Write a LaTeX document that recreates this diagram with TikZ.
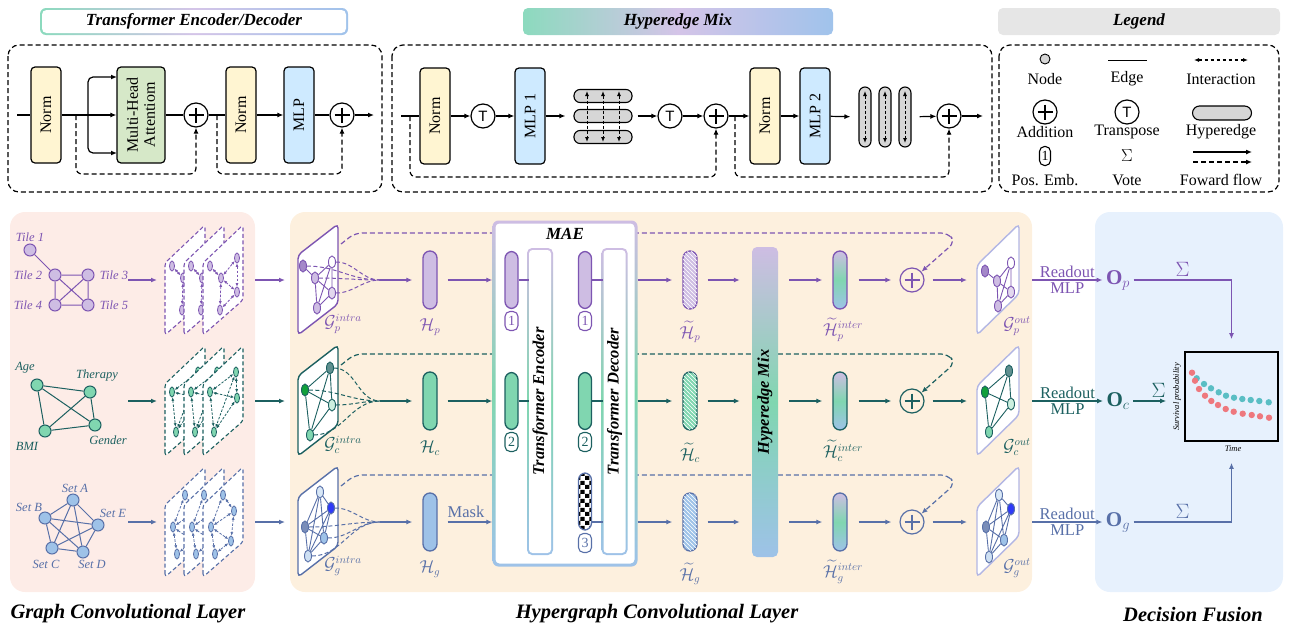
\documentclass[tikz,border=0pt]{standalone}
\usepackage{fontspec}
\setmainfont{Liberation Serif}
\newfontfamily\tsans{Liberation Sans}
\usepackage{amsmath}
\usepackage{tikz}
\usetikzlibrary{patterns, calc, arrows.meta, shapes.geometric}

\definecolor{pline}{RGB}{125,85,178}
\definecolor{pfill}{RGB}{206,189,227}
\definecolor{cline}{RGB}{28,96,96}
\definecolor{cfill}{RGB}{128,214,176}
\definecolor{gline}{RGB}{88,112,168}
\definecolor{gfill}{RGB}{158,194,232}
\definecolor{normfill}{RGB}{255,245,210}
\definecolor{mlpfill}{RGB}{206,234,255}
\definecolor{mhafill}{RGB}{214,232,200}
\definecolor{hegray}{RGB}{214,214,214}
\definecolor{leggray}{RGB}{230,230,230}
\definecolor{gclbg}{RGB}{253,236,231}
\definecolor{hclbg}{RGB}{253,240,222}
\definecolor{dfbg}{RGB}{231,241,253}
\definecolor{outbd}{RGB}{178,182,228}
\definecolor{tgreen}{RGB}{140,218,190}
\definecolor{tlav}{RGB}{212,196,232}
\definecolor{tblue}{RGB}{160,195,235}
\definecolor{reddot}{RGB}{238,120,126}
\definecolor{tealdot}{RGB}{90,190,196}

\pgfdeclarepatternformonly{hatchw}{\pgfqpoint{-1pt}{-1pt}}{\pgfqpoint{5pt}{5pt}}{\pgfqpoint{4pt}{4pt}}{%
  \pgfsetlinewidth{0.55pt}%
  \pgfpathmoveto{\pgfqpoint{-0.5pt}{4.5pt}}%
  \pgfpathlineto{\pgfqpoint{4.5pt}{-0.5pt}}%
  \pgfusepath{stroke}}
\pgfdeclarepatternformonly{chk}{\pgfpointorigin}{\pgfqpoint{9pt}{9pt}}{\pgfqpoint{9pt}{9pt}}{%
  \pgfpathrectangle{\pgfpointorigin}{\pgfqpoint{4.5pt}{4.5pt}}%
  \pgfpathrectangle{\pgfqpoint{4.5pt}{4.5pt}}{\pgfqpoint{4.5pt}{4.5pt}}%
  \pgfusepath{fill}}

\begin{document}
\begin{tikzpicture}[x=1pt, y=-1pt,
  wire/.style={line width=1.2pt},
  arrow/.style={->, line width=1.2pt, >={Latex[length=6pt,width=5pt]}},
  darrow/.style={arrow, dash pattern=on 5pt off 3pt},
  iarrow/.style={<->, line width=0.8pt, dash pattern=on 2.5pt off 1.5pt, >={Latex[length=3.5pt,width=3pt]}},
  harrow/.style={<->, line width=1pt, dash pattern=on 3pt off 2pt, >={Latex[length=5pt,width=4pt]}},
  dbox/.style={line width=1.2pt, dash pattern=on 5pt off 3pt, rounded corners=11pt},
  blk/.style={rectangle, draw, line width=1.2pt, rounded corners=4pt, minimum width=30pt, minimum height=96pt, inner sep=0pt},
  vlab/.style={rotate=90, font=\fontsize{16}{17}\selectfont, align=center, inner sep=0pt},
  vbold/.style={rotate=90, font=\fontsize{16.5}{17}\selectfont\bfseries\itshape, inner sep=0pt},
  addop/.style={circle, draw, line width=1.2pt, minimum size=24pt, inner sep=0pt,
    path picture={\draw[line width=1.3pt]
      ($(path picture bounding box.center)+(-7.5,0)$) -- ($(path picture bounding box.center)+(7.5,0)$)
      ($(path picture bounding box.center)+(0,-7.5)$) -- ($(path picture bounding box.center)+(0,7.5)$);}},
  trop/.style={circle, draw, line width=1.2pt, minimum size=24pt, inner sep=0pt, font=\tsans\fontsize{15}{15}\selectfont},
  hedge/.style={rectangle, draw, line width=1.1pt, fill=hegray, rounded corners=6pt, inner sep=0pt},
  title/.style={rectangle, rounded corners=5pt, inner sep=0pt, font=\fontsize{17}{18}\selectfont\bfseries\itshape},
  btitle/.style={font=\fontsize{20.5}{22}\selectfont\bfseries\itshape},
  legtxt/.style={font=\fontsize{16}{17}\selectfont},
  glab/.style={font=\fontsize{12.5}{13}\selectfont\itshape},
  mlab/.style={font=\fontsize{16}{17}\selectfont},
  rdlab/.style={font=\fontsize{16.5}{17}\selectfont, inner sep=2pt},
  sig/.style={font=\fontsize{21}{21}\selectfont},
  gnode/.style={circle, line width=1pt, minimum size=12pt, inner sep=0pt},
  enode/.style={ellipse, line width=0.8pt, minimum width=5pt, minimum height=10pt, inner sep=0pt},
  inode/.style={ellipse, line width=0.9pt, minimum width=7pt, minimum height=12pt, inner sep=0pt},
  card/.style={fill=white, line width=1.1pt, dash pattern=on 4pt off 2.5pt, rounded corners=3pt},
  fan/.style={line width=1pt, dash pattern=on 4pt off 2.5pt},
  tok/.style={rectangle, rounded corners=7pt, minimum width=14pt, minimum height=58pt, line width=1.3pt, inner sep=0pt},
  pemb/.style={rectangle, draw, rounded corners=5pt, line width=1.1pt, fill=white, minimum width=13pt, minimum height=19pt, inner sep=0pt, font=\fontsize{14}{14}\selectfont}
]
\useasboundingbox (0,0) rectangle (1295,632);

%% ---- TRANSFORMER ENCODER/DECODER ----
\shade[left color=tgreen, right color=tblue, middle color=tlav, rounded corners=6pt] (40,8) rectangle (348,35);
\node[title, fill=white, minimum width=304pt, minimum height=23pt, rounded corners=4.5pt] at (194,21.5) (ttitle) {Transformer Encoder/Decoder};
\draw[dbox] (8,45) rectangle (382,192);
\coordinate (tin) at (17,115);
\node[blk, fill=normfill, label={[vlab]center:Norm}] at (46,115) (tnorm1) {};
\coordinate (tres1) at (76,115);
\coordinate (tbr) at (88,115);
\node[blk, fill=mhafill, minimum width=48pt, label={[vlab]center:Multi-Head\\Attentiom}] at (141,115) (tmha) {};
\coordinate (tmhaT) at (117,77);
\coordinate (tmhaB) at (117,153);
\node[addop] at (196,115) (tadd1) {};
\coordinate (tres2) at (217,115);
\node[blk, fill=normfill, label={[vlab]center:Norm}] at (241,115) (tnorm2) {};
\node[blk, fill=mlpfill, label={[vlab]center:MLP}] at (299,115) (tmlp) {};
\node[addop] at (342,115) (tadd2) {};
\coordinate (tout) at (374,115);
\coordinate (tlow1) at (196,174);
\coordinate (tlow2) at (342,174);

\draw[wire] (tin) -- (tnorm1);
\draw[arrow] (tnorm1) -- (tmha);
\draw[arrow, rounded corners=5pt] (tbr) |- (tmhaT);
\draw[arrow, rounded corners=5pt] (tbr) |- (tmhaB);
\draw[wire] (tmha) -- (tadd1);
\draw[wire] (tadd1) -- (tnorm2);
\draw[arrow] (tnorm2) -- (tmlp);
\draw[wire] (tmlp) -- (tadd2);
\draw[arrow] (tadd2) -- (tout);
\draw[darrow, rounded corners=6pt] (tres1) |- (tlow1) -- (tadd1);
\draw[darrow, rounded corners=6pt] (tres2) |- (tlow2) -- (tadd2);

%% ---- HYPEREDGE MIX ----
\node[title, left color=tgreen, right color=tblue, middle color=tlav, minimum width=310pt, minimum height=27pt] at (678,21.5) (htitle) {Hyperedge Mix};
\draw[dbox] (392,45) rectangle (992,192);
\coordinate (hin) at (401,116);
\coordinate (hres1) at (410,116);
\node[blk, fill=normfill, label={[vlab]center:Norm}] at (435,116) (hnorm1) {};
\node[trop] at (483,116) (htr1) {T};
\node[blk, fill=mlpfill, label={[vlab]center:MLP 1}] at (530,116) (hmlp1) {};
\node[hedge, minimum width=58pt, minimum height=13pt] at (603,96) (hh1) {};
\node[hedge, minimum width=58pt, minimum height=13pt] at (603,116) (hh2) {};
\node[hedge, minimum width=58pt, minimum height=13pt] at (603,137) (hh3) {};
\foreach \x in {587,603,619} \draw[harrow] (\x,91) -- (\x,142);
\node[trop] at (670,116) (htr2) {T};
\node[addop] at (716,116) (hadd1) {};
\coordinate (hres2) at (735,116);
\node[blk, fill=normfill, label={[vlab]center:Norm}] at (765,116) (hnorm2) {};
\node[blk, fill=mlpfill, label={[vlab]center:MLP 2}] at (815,116) (hmlp2) {};
\node[hedge, minimum width=12pt, minimum height=60pt] at (865,117) (hv1) {};
\node[hedge, minimum width=12pt, minimum height=60pt] at (885,117) (hv2) {};
\node[hedge, minimum width=12pt, minimum height=60pt] at (905,117) (hv3) {};
\foreach \x in {865,885,905} \draw[harrow] (\x,91) -- (\x,143);
\node[addop] at (949,116) (hadd2) {};
\coordinate (hout) at (983,116);
\coordinate (hlow1) at (716,177);
\coordinate (hlow2) at (949,177);

\draw[wire] (hin) -- (hnorm1);
\draw[arrow] (hnorm1) -- (htr1);
\draw[arrow] (htr1) -- (hmlp1);
\draw[arrow, shorten >=8pt] (hmlp1) -- (hh2);
\draw[arrow, shorten <=5pt] (hh2) -- (htr2);
\draw[arrow] (htr2) -- (hadd1);
\draw[arrow] (hadd1) -- (hnorm2);
\draw[arrow] (hnorm2) -- (hmlp2);
\draw[arrow, shorten >=8pt] (hmlp2) -- (hv1);
\draw[arrow, shorten <=8pt] (hv3) -- (hadd2);
\draw[arrow] (hadd2) -- (hout);
\draw[darrow, rounded corners=6pt] (hres1) |- (hlow1) -- (hadd1);
\draw[darrow, rounded corners=6pt] (hres2) |- (hlow2) -- (hadd2);

%% ---- LEGEND ----
\node[title, fill=leggray, minimum width=282pt, minimum height=27pt] at (1139,21.5) (ltitle) {Legend};
\draw[dbox] (999,45) rectangle (1279,192);
\node[circle, draw, line width=0.9pt, fill=hegray, minimum size=10pt, inner sep=0pt] at (1045,59) (lgnode) {};
\coordinate (lge1) at (1108,60);
\coordinate (lge2) at (1147,60);
\draw[line width=1pt] (lge1) -- (lge2);
\coordinate (lgi1) at (1194,60);
\coordinate (lgi2) at (1248,60);
\draw[<->, line width=1.1pt, dash pattern=on 3.5pt off 2.5pt, >={Latex[length=5pt,width=4pt]}] (lgi1) -- (lgi2);
\node[legtxt] at (1045,79) (lgt1) {Node};
\node[legtxt] at (1127,79) (lgt2) {Edge};
\node[legtxt] at (1221,79) (lgt3) {Interaction};
\node[addop] at (1045,112) (lgadd) {};
\node[trop] at (1127,112) (lgtr) {T};
\node[hedge, minimum width=59pt, minimum height=14pt, rounded corners=7pt] at (1222,113) (lghe) {};
\node[legtxt] at (1045,132) (lgt4) {Addition};
\node[legtxt] at (1127,132) (lgt5) {Transpose};
\node[legtxt] at (1221,132) (lgt6) {Hyperedge};
\node[pemb, minimum width=11pt] at (1045,156) (lgpe) {1};
\node[sig, font=\fontsize{17}{17}\selectfont] at (1127,156) (lgsig) {$\Sigma$};
\coordinate (lgf1) at (1193,152);
\coordinate (lgf2) at (1252,152);
\coordinate (lgf3) at (1193,162);
\coordinate (lgf4) at (1252,162);
\draw[arrow] (lgf1) -- (lgf2);
\draw[darrow] (lgf3) -- (lgf4);
\node[legtxt] at (1045,180) (lgt7) {Pos. Emb.};
\node[legtxt] at (1127,180) (lgt8) {Vote};
\node[legtxt] at (1221,180) (lgt9) {Foward flow};

%% ---- PANELS ----
\fill[gclbg, rounded corners=15pt] (10,212) rectangle (255,592);
\fill[hclbg, rounded corners=15pt] (290,212) rectangle (1032,592);
\fill[dfbg, rounded corners=15pt] (1095,212) rectangle (1283,592);
\node[btitle] at (128,614) (lgcl) {Graph Convolutional Layer};
\node[btitle] at (657,614) (lhcl) {Hypergraph Convolutional Layer};
\node[btitle] at (1193,614) (ldf) {Decision Fusion};

%% ---- per-modality rows ----
\foreach \md/\ry/\cl/\cf in {p/280/pline/pfill, c/401/cline/cfill, g/522/gline/gfill} {
  \coordinate (gi\md) at (128,\ry);
  \coordinate (gs\md) at (157,\ry);
  \coordinate (go\md) at (255,\ry);
  \coordinate (hi\md) at (285,\ry);
  \draw[arrow, \cl] (gi\md) -- (gs\md);
  \draw[arrow, \cl] (go\md) -- (hi\md);
  % intra graph frame
  \draw[\cl, line width=1.4pt, fill=white, rounded corners=4pt] (298,\ry+55) -- (298,\ry-25) -- (338,\ry-56) -- (338,\ry+24) -- cycle;
  \node[mlab, text=\cl] at (343,\ry+44) (lgi\md) {$\mathcal{G}_{\md}^{intra}$};
  \coordinate (cv\md) at (380,\ry);
  \node[tok, draw=\cl, fill=\cf] at (430,\ry) (H\md) {};
  \node[mlab, text=\cl] at (430,\ry+47) (lH\md) {$\mathcal{H}_{\md}$};
  \draw[arrow, \cl, shorten >=10pt] (cv\md) -- (H\md);
  % reconstructed / mixed tokens
  \node[tok, draw=\cl, fill=\cf, postaction={pattern=hatchw, pattern color=white}] at (690,\ry) (Ht\md) {};
  \node[mlab, text=\cl] at (690,\ry+52) (lHt\md) {$\widetilde{\mathcal{H}}_{\md}$};
  \node[tok, draw=\cl, top color=pfill, bottom color=gfill, middle color=cfill] at (840,\ry) (Hi\md) {};
  \node[mlab, text=\cl] at (843,\ry+50) (lHi\md) {$\widetilde{\mathcal{H}}_{\md}^{inter}$};
  \node[addop, \cl] at (912,\ry) (add\md) {};
  \coordinate (ga\md) at (967,\ry);
  \draw[arrow, \cl, shorten <=11pt, shorten >=8pt] (Hi\md) -- (add\md);
  \draw[arrow, \cl, shorten <=8pt] (add\md) -- (ga\md);
  % output graph frame
  \draw[outbd, line width=1.4pt, fill=white, rounded corners=4pt] (977,\ry+55) -- (977,\ry-15) -- (1019,\ry-56) -- (1019,\ry+14) -- cycle;
  \node[mlab, text=\cl] at (1017,\ry+46) (lgo\md) {$\mathcal{G}_{\md}^{out}$};
  % readout
  \coordinate (ro\md) at (1032,\ry);
  \node[font=\fontsize{21}{22}\selectfont, text=\cl] at (1118,\ry) (O\md) {$\mathbf{O}_{\md}$};
  \draw[arrow, \cl] (ro\md) -- node[rdlab, text=\cl, above] {Readout} node[rdlab, text=\cl, below] {MLP} (O\md);
}

%% ---- pathology graph ----
\node[gnode, draw=pline, fill=pfill] at (30,250) (t1) {};
\node[gnode, draw=pline, fill=pfill] at (55,275) (t2) {};
\node[gnode, draw=pline, fill=pfill] at (88,275) (t3) {};
\node[gnode, draw=pline, fill=pfill] at (55,305) (t4) {};
\node[gnode, draw=pline, fill=pfill] at (88,305) (t5) {};
\draw[pline, line width=1pt] (t1) -- (t2) (t2) -- (t3) (t2) -- (t4) (t2) -- (t5) (t3) -- (t4) (t3) -- (t5) (t4) -- (t5);
\node[glab, text=pline] at (30,237) (lt1) {Tile 1};
\node[glab, text=pline] at (28,275) (lt2) {Tile 2};
\node[glab, text=pline] at (114,275) (lt3) {Tile 3};
\node[glab, text=pline] at (28,305) (lt4) {Tile 4};
\node[glab, text=pline] at (114,305) (lt5) {Tile 5};
\foreach \dx in {0,19,38} {
  \draw[card, draw=pline] (165+\dx,335) -- (165+\dx,263) -- (205+\dx,225) -- (205+\dx,300) -- cycle;
  \node[enode, draw=pline, fill=pfill] at (172+\dx,266) (cpa\dx) {};
  \node[enode, draw=pline, fill=pfill] at (183+\dx,278) (cpb\dx) {};
  \node[enode, draw=pline, fill=pfill] at (199+\dx,258) (cpc\dx) {};
  \node[enode, draw=pline, fill=pfill] at (199+\dx,292) (cpd\dx) {};
  \node[enode, draw=pline, fill=pfill] at (182+\dx,310) (cpe\dx) {};
  \draw[iarrow, pline] (cpa\dx) -- (cpb\dx);
  \draw[iarrow, pline] (cpb\dx) -- (cpc\dx);
  \draw[iarrow, pline] (cpb\dx) -- (cpd\dx);
  \draw[iarrow, pline] (cpc\dx) -- (cpd\dx);
  \draw[iarrow, pline] (cpb\dx) -- (cpe\dx);
  \draw[iarrow, pline] (cpd\dx) -- (cpe\dx);
}

%% ---- clinical graph ----
\node[gnode, draw=cline, fill=cfill] at (37,385) (age) {};
\node[gnode, draw=cline, fill=cfill] at (90,392) (thr) {};
\node[gnode, draw=cline, fill=cfill] at (45,431) (bmi) {};
\node[gnode, draw=cline, fill=cfill] at (95,425) (gen) {};
\draw[cline, line width=1pt] (age) -- (thr) (age) -- (bmi) (age) -- (gen) (thr) -- (bmi) (thr) -- (gen) (bmi) -- (gen);
\node[glab, text=cline] at (25,368) (lage) {Age};
\node[glab, text=cline] at (97,376) (lthr) {Therapy};
\node[glab, text=cline] at (27,446) (lbmi) {BMI};
\node[glab, text=cline] at (108,440) (lgen) {Gender};
\foreach \dx in {0,19,38} {
  \draw[card, draw=cline] (165+\dx,456) -- (165+\dx,384) -- (205+\dx,346) -- (205+\dx,421) -- cycle;
  \node[enode, draw=cline, fill=cfill] at (172+\dx,392) (cca\dx) {};
  \node[enode, draw=cline, fill=cfill] at (198+\dx,372) (ccb\dx) {};
  \node[enode, draw=cline, fill=cfill] at (199+\dx,398) (ccc\dx) {};
  \node[enode, draw=cline, fill=cfill] at (176+\dx,432) (ccd\dx) {};
  \draw[iarrow, cline] (cca\dx) -- (ccb\dx);
  \draw[iarrow, cline] (cca\dx) -- (ccc\dx);
  \draw[iarrow, cline] (cca\dx) -- (ccd\dx);
  \draw[iarrow, cline] (ccb\dx) -- (ccc\dx);
  \draw[iarrow, cline] (ccb\dx) -- (ccd\dx);
  \draw[iarrow, cline] (ccc\dx) -- (ccd\dx);
}

%% ---- genomic graph ----
\node[gnode, draw=gline, fill=gfill] at (73,500) (sa) {};
\node[gnode, draw=gline, fill=gfill] at (45,518) (sb) {};
\node[gnode, draw=gline, fill=gfill] at (98,525) (se) {};
\node[gnode, draw=gline, fill=gfill] at (52,548) (sc) {};
\node[gnode, draw=gline, fill=gfill] at (83,552) (sd) {};
\draw[gline, line width=1pt] (sa) -- (sb) (sa) -- (sc) (sa) -- (sd) (sa) -- (se) (sb) -- (sc) (sb) -- (sd) (sb) -- (se) (sc) -- (sd) (sc) -- (se) (sd) -- (se);
\node[glab, text=gline] at (75,488) (lsa) {Set A};
\node[glab, text=gline] at (29,507) (lsb) {Set B};
\node[glab, text=gline] at (113,513) (lse) {Set E};
\node[glab, text=gline] at (46,564) (lsc) {Set C};
\node[glab, text=gline] at (92,564) (lsd) {Set D};
\foreach \dx in {0,19,38} {
  \draw[card, draw=gline] (165+\dx,577) -- (165+\dx,505) -- (205+\dx,467) -- (205+\dx,542) -- cycle;
  \node[enode, draw=gline, fill=gfill] at (185+\dx,495) (cga\dx) {};
  \node[enode, draw=gline, fill=gfill] at (196+\dx,511) (cgb\dx) {};
  \node[enode, draw=gline, fill=gfill] at (173+\dx,527) (cgc\dx) {};
  \node[enode, draw=gline, fill=gfill] at (193+\dx,541) (cgd\dx) {};
  \node[enode, draw=gline, fill=gfill] at (177+\dx,554) (cge\dx) {};
  \draw[iarrow, gline] (cga\dx) -- (cgb\dx);
  \draw[iarrow, gline] (cga\dx) -- (cgc\dx);
  \draw[iarrow, gline] (cgb\dx) -- (cgc\dx);
  \draw[iarrow, gline] (cgb\dx) -- (cgd\dx);
  \draw[iarrow, gline] (cgc\dx) -- (cgd\dx);
  \draw[iarrow, gline] (cgc\dx) -- (cge\dx);
  \draw[iarrow, gline] (cgd\dx) -- (cge\dx);
}

%% ---- intra graphs ----
\node[inode, draw=pline, fill=pline!70] at (303,266) (ipa) {};
\node[inode, draw=pline, fill=pfill] at (315,278) (ipb) {};
\node[inode, draw=pline, fill=white] at (332,262) (ipc) {};
\node[inode, draw=pline, fill=pfill!60] at (332,293) (ipd) {};
\node[inode, draw=pline, fill=pfill] at (317,308) (ipe) {};
\draw[pline, line width=0.9pt] (ipa) -- (ipb) (ipb) -- (ipc) (ipb) -- (ipd) (ipb) -- (ipe) (ipc) -- (ipd) (ipc) -- (ipe) (ipd) -- (ipe);
\foreach \n in {ipa,ipc,ipb,ipd} \draw[fan, pline] (\n) to[out=0, in=180] (cvp);

\node[inode, draw=cline, fill=cline!60!green] at (305,390) (ica) {};
\node[inode, draw=cline, fill=cline!70] at (330,368) (icb) {};
\node[inode, draw=cline, fill=cfill!40] at (332,405) (icc) {};
\node[inode, draw=cline, fill=cfill] at (310,435) (icd) {};
\draw[cline, line width=0.9pt] (ica) -- (icb) (ica) -- (icc) (ica) -- (icd) (icb) -- (icc) (icb) -- (icd) (icc) -- (icd);
\foreach \n in {ica,icb,icc,icd} \draw[fan, cline] (\n) to[out=0, in=180] (cvc);

\node[inode, draw=gline, fill=gfill!40] at (320,492) (iga) {};
\node[inode, draw=gline, fill=blue!70!gfill] at (331,508) (igb) {};
\node[inode, draw=gline, fill=gline!80] at (305,527) (igc) {};
\node[inode, draw=gline, fill=gfill] at (324,538) (igd) {};
\node[inode, draw=gline, fill=gfill!50] at (308,556) (ige) {};
\draw[gline, line width=0.9pt] (iga) -- (igb) (iga) -- (igc) (iga) -- (igd) (iga) -- (ige) (igb) -- (igc) (igb) -- (igd) (igb) -- (ige) (igc) -- (igd) (igc) -- (ige) (igd) -- (ige);
\foreach \n in {igb,igc,igd,ige} \draw[fan, gline] (\n) to[out=0, in=180] (cvg);

%% ---- output graphs ----
\node[inode, draw=pline, fill=pline!70] at (985,271) (opa) {};
\node[inode, draw=pline, fill=pfill] at (997,281) (opb) {};
\node[inode, draw=pline, fill=white] at (1011,263) (opc) {};
\node[inode, draw=pline, fill=pfill!60] at (1011,292) (opd) {};
\node[inode, draw=pline, fill=pfill] at (998,306) (ope) {};
\draw[pline, line width=0.9pt] (opa) -- (opb) (opb) -- (opc) (opb) -- (opd) (opb) -- (ope) (opc) -- (opd) (opc) -- (ope) (opd) -- (ope);

\node[inode, draw=cline, fill=cline!60!green] at (985,392) (oca) {};
\node[inode, draw=cline, fill=cline!70] at (1009,371) (ocb) {};
\node[inode, draw=cline, fill=cfill!40] at (1011,404) (occ) {};
\node[inode, draw=cline, fill=cfill] at (989,432) (ocd) {};
\draw[cline, line width=0.9pt] (oca) -- (ocb) (oca) -- (occ) (oca) -- (ocd) (ocb) -- (occ) (ocb) -- (ocd) (occ) -- (ocd);

\node[inode, draw=gline, fill=gfill!40] at (999,495) (oga) {};
\node[inode, draw=gline, fill=blue!70!gfill] at (1011,509) (ogb) {};
\node[inode, draw=gline, fill=gline!80] at (986,527) (ogc) {};
\node[inode, draw=gline, fill=gfill] at (1004,540) (ogd) {};
\node[inode, draw=gline, fill=gfill!50] at (989,557) (oge) {};
\draw[gline, line width=0.9pt] (oga) -- (ogb) (oga) -- (ogc) (oga) -- (ogd) (oga) -- (oge) (ogb) -- (ogc) (ogb) -- (ogd) (ogb) -- (oge) (ogc) -- (ogd) (ogc) -- (oge) (ogd) -- (oge);

%% ---- skip connections ----
\foreach \md/\ry/\cl in {p/280/pline, c/401/cline, g/522/gline} {
  \coordinate (sk\md) at (341,\ry-36);
  \draw[darrow, \cl, rounded corners=7pt] (sk\md) -- (355,\ry-47) -- (948,\ry-47) -- (955,\ry-38) -- (add\md);
}

%% ---- MAE ----
\node[rectangle, rounded corners=6pt, top color=pfill, bottom color=gfill, middle color=cfill, minimum width=145pt, minimum height=346pt] at (565,393.5) (mae) {};
\node[rectangle, rounded corners=4pt, fill=white, minimum width=139pt, minimum height=340pt] at (565,393.5) (maein) {};
\node[title] at (565,234) (lmae) {MAE};
\node[rectangle, rounded corners=5pt, top color=pfill, bottom color=gfill, middle color=cfill, minimum width=26pt, minimum height=307pt] at (540,401.5) (enco) {};
\node[rectangle, rounded corners=3.5pt, fill=white, minimum width=22pt, minimum height=303pt, label={[vbold]center:Transformer Encoder}] at (540,401.5) (enc) {};
\node[rectangle, rounded corners=5pt, top color=pfill, bottom color=gfill, middle color=cfill, minimum width=26pt, minimum height=307pt] at (614.5,401.5) (deco) {};
\node[rectangle, rounded corners=3.5pt, fill=white, minimum width=22pt, minimum height=303pt, label={[vbold]center:Transformer Decoder}] at (614.5,401.5) (dec) {};

\node[tok, draw=pline, fill=pfill, minimum width=13pt, minimum height=57pt] at (511.5,280) (etp) {};
\node[pemb, draw=pline, text=pline] at (511.5,321) (epp) {1};
\node[tok, draw=cline, fill=cfill, minimum width=13pt, minimum height=57pt] at (511.5,401) (etc) {};
\node[pemb, draw=cline, text=cline] at (511.5,442) (epc) {2};
\node[tok, draw=pline, fill=pfill, minimum width=13pt, minimum height=57pt] at (585,280) (dtp) {};
\node[pemb, draw=pline, text=pline] at (585,321) (dpp) {1};
\node[tok, draw=cline, fill=cfill, minimum width=13pt, minimum height=57pt] at (585,401) (dtc) {};
\node[pemb, draw=cline, text=cline] at (585,442) (dpc) {2};
\node[tok, draw=gline, preaction={fill=white}, pattern=chk, pattern color=black, minimum width=13pt, minimum height=57pt] at (585,501.5) (dtg) {};
\node[pemb, draw=gline, text=gline] at (585,543) (dpg) {3};
\draw[pline, wire] (etp) -- (etp -| enc.west);
\draw[cline, wire] (etc) -- (etc -| enc.west);
\draw[pline, wire] (dtp) -- (dtp -| dec.west);
\draw[cline, wire] (dtc) -- (dtc -| dec.west);
\draw[gline, wire] (dtg.east |- Hg) -- (Hg -| dec.west);

%% ---- Hyperedge Mix column ----
\node[rectangle, rounded corners=5pt, top color=pfill, bottom color=gfill, middle color=cfill, minimum width=26pt, minimum height=310pt, label={[vbold]center:Hyperedge Mix}] at (765,402) (hmix) {};

\foreach \md/\ry/\cl in {p/280/pline, c/401/cline, g/522/gline} {
  \draw[arrow, \cl, shorten <=10pt] (H\md) -- (H\md -| mae.west);
  \draw[arrow, \cl, shorten >=10pt] (H\md -| mae.east) -- (Ht\md);
  \draw[arrow, \cl, shorten <=10pt, shorten >=12pt] (Ht\md) -- (Ht\md -| hmix.west);
  \draw[arrow, \cl, shorten <=11pt, shorten >=10pt] (Ht\md -| hmix.east) -- (Hi\md);
}
\node[rdlab, text=gline] at (466,512) (lmask) {Mask};

%% ---- DECISION FUSION ----
\node[draw, line width=1.6pt, minimum width=93pt, minimum height=89pt, inner sep=0pt] at (1231.5,396.5) (plot) {};
\foreach \px/\py in {1196.7/378.3, 1204/384, 1211/388.3, 1218.7/392.3, 1226/395.7, 1234/397.7, 1242.3/399, 1250.7/400, 1259.3/401, 1268.7/402.3}
  \fill[tealdot] (\px,\py) circle (3.2pt);
\foreach \px/\py in {1192/372.7, 1195/380.7, 1199/389, 1205/395.7, 1211.3/401, 1218/405, 1225.7/409, 1233.7/411.7, 1242.7/413.7, 1251.7/415, 1260/416.3, 1269/417.7}
  \fill[reddot] (\px,\py) circle (3.2pt);
\node[rotate=90, font=\fontsize{8.5}{9}\selectfont\itshape] at (1177,397) (ylab) {Survival probability};
\node[font=\fontsize{8.5}{9}\selectfont\itshape] at (1233,449) (xlab) {Time};
\draw[arrow, pline, shorten >=12pt] (Op) -| node[pos=0.25, above, sig, text=pline] {$\Sigma$} (plot);
\draw[arrow, cline, shorten >=18pt] (Oc) -- node[above, sig, text=cline] {$\Sigma$} (Oc -| plot.west);
\draw[arrow, gline, shorten >=21pt] (Og) -| node[pos=0.25, above, sig, text=gline] {$\Sigma$} (plot);
\end{tikzpicture}
\end{document}
